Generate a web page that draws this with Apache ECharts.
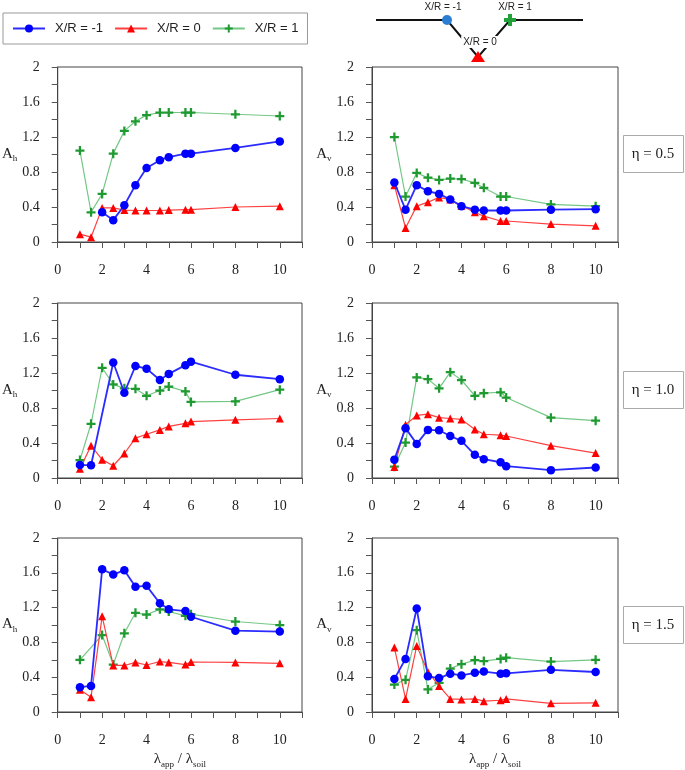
<!DOCTYPE html>
<html>
<head>
<meta charset="utf-8">
<script src="https://cdn.jsdelivr.net/npm/echarts@6/dist/echarts.min.js"></script>
<style>
  html, body { margin: 0; padding: 0; background: #fff; }
  #main { width: 685px; height: 770px; }
</style>
</head>
<body>
<div id="main"></div>
<script>
// lambda_app / lambda_soil
var lambdaRatio = [1, 1.5, 2, 2.5, 3, 3.5, 4, 4.6, 5, 5.75, 6, 8, 10];

var seriesNames = ['X/R = -1', 'X/R = 0', 'X/R = 1'];
var etaLabels = ['η = 0.5', 'η = 1.0', 'η = 1.5'];
var xTickLabels = ['0', '2', '4', '6', '8', '10'];
var yTickLabels = ['0', '0.4', '0.8', '1.2', '1.6', '2'];

// eta = 0.5
var ah05m1 = [null, null, 0.34, 0.25, 0.42, 0.65, 0.845, 0.935, 0.97, 1.01, 1.01, 1.075, 1.15];
var ah05z = [0.09, 0.055, 0.39, 0.39, 0.365, 0.36, 0.36, 0.36, 0.365, 0.37, 0.37, 0.40, 0.41];
var ah05p1 = [1.045, 0.34, 0.55, 1.01, 1.27, 1.38, 1.45, 1.48, 1.48, 1.48, 1.48, 1.46, 1.44];
var av05m1 = [0.68, 0.37, 0.65, 0.58, 0.55, 0.485, 0.41, 0.37, 0.36, 0.36, 0.36, 0.37, 0.375];
var av05z = [0.65, 0.16, 0.41, 0.455, 0.51, 0.485, 0.415, 0.34, 0.295, 0.24, 0.24, 0.205, 0.185];
var av05p1 = [1.20, 0.52, 0.79, 0.735, 0.71, 0.725, 0.72, 0.675, 0.62, 0.52, 0.52, 0.43, 0.41];

// eta = 1.0
var ah10m1 = [0.15, 0.145, null, 1.32, 0.975, 1.28, 1.25, 1.12, 1.19, 1.29, 1.33, 1.18, 1.13];
var ah10z = [0.106, 0.37, 0.21, 0.14, 0.28, 0.455, 0.50, 0.55, 0.59, 0.625, 0.645, 0.665, 0.68];
var ah10p1 = [0.205, 0.62, 1.26, 1.07, 1.025, 1.02, 0.94, 1.00, 1.045, 0.99, 0.87, 0.875, 1.01];
var av10m1 = [0.21, 0.57, 0.39, 0.55, 0.545, 0.48, 0.425, 0.265, 0.215, 0.18, 0.135, 0.09, 0.12];
var av10z = [0.125, 0.61, 0.715, 0.73, 0.69, 0.68, 0.67, 0.555, 0.50, 0.49, 0.48, 0.37, 0.285];
var av10p1 = [0.13, 0.405, 1.15, 1.13, 1.025, 1.21, 1.12, 0.94, 0.97, 0.98, 0.92, 0.69, 0.655];

// eta = 1.5
var ah15m1 = [0.285, 0.30, 1.64, 1.58, 1.63, 1.44, 1.45, 1.25, 1.18, 1.16, 1.095, 0.935, 0.925];
var ah15z = [0.255, 0.17, 1.10, 0.535, 0.535, 0.57, 0.54, 0.58, 0.57, 0.545, 0.575, 0.57, 0.56];
var ah15p1 = [0.60, null, 0.885, 0.545, 0.905, 1.14, 1.12, 1.18, 1.155, 1.105, 1.125, 1.04, 1.00];
var av15m1 = [0.38, 0.61, 1.19, 0.41, 0.39, 0.44, 0.42, 0.45, 0.465, 0.44, 0.445, 0.485, 0.46];
var av15z = [0.74, 0.15, 0.76, 0.46, 0.30, 0.15, 0.145, 0.15, 0.125, 0.135, 0.15, 0.10, 0.105];
var av15p1 = [0.315, 0.37, 0.94, 0.26, 0.335, 0.50, 0.55, 0.595, 0.585, 0.61, 0.625, 0.58, 0.60];

// panel order: row by row, left = A_h, right = A_v
var panels = [
  [ah05m1, ah05z, ah05p1], [av05m1, av05z, av05p1],
  [ah10m1, ah10z, ah10p1], [av10m1, av10z, av10p1],
  [ah15m1, ah15z, ah15p1], [av15m1, av15z, av15p1]
];

var plusPath = 'path://M3,0H5V3H8V5H5V8H3V5H0V3H3Z';
var styles = [
  { line: '#2b2bff', mark: '#0000ff', symbol: 'circle', size: 8.5, width: 1.8 },
  { line: '#ff4040', mark: '#ff0000', symbol: 'triangle', size: 8, width: 1.2 },
  { line: '#74c785', mark: '#1e9a30', symbol: plusPath, size: 9, width: 1.2 }
];

var gridLeft = [56, 372];
var gridTop = [67, 303, 538];
var serif = 'Liberation Serif';

var rich = {
  a: { fontFamily: serif, fontSize: 15, color: '#222', lineHeight: 16, verticalAlign: 'top' },
  s: { fontFamily: serif, fontSize: 9, color: '#222', lineHeight: 10, padding: [8, 0, 0, 0], verticalAlign: 'top' }
};

function pairs(arr) {
  var out = [];
  for (var i = 0; i < lambdaRatio.length; i++) {
    if (arr[i] !== null) out.push([lambdaRatio[i], arr[i]]);
  }
  return out;
}

var grids = [], xAxes = [], yAxes = [], series = [];
for (var p = 0; p < 6; p++) {
  var row = Math.floor(p / 2), col = p % 2;
  grids.push({
    left: gridLeft[col], top: gridTop[row], width: 246, height: 175,
    show: true, borderColor: '#444', borderWidth: 1, backgroundColor: 'transparent'
  });
  xAxes.push({
    type: 'value', gridIndex: p, min: 0, max: 11, interval: 1,
    name: row === 2 ? '{a|λ}{s|app}{a| / λ}{s|soil}' : '',
    nameLocation: 'middle', nameGap: 40,
    nameTextStyle: { rich: rich },
    splitLine: { show: false },
    axisLine: { lineStyle: { color: '#444' } },
    axisTick: { inside: false, length: 6, lineStyle: { color: '#555' } },
    axisLabel: {
      margin: 21, fontFamily: serif, fontSize: 14, color: '#222',
      formatter: function (v) {
        var s = String(Math.round(v * 10) / 10);
        return xTickLabels.indexOf(s) >= 0 ? s : '';
      }
    }
  });
  yAxes.push({
    type: 'value', gridIndex: p, min: 0, max: 2, interval: 0.2,
    name: col === 0 ? '{a|A}{s|h}' : '{a|A}{s|v}',
    nameLocation: 'middle', nameRotate: 0, nameGap: 40,
    nameTextStyle: { rich: rich },
    splitLine: { show: false },
    axisLine: { lineStyle: { color: '#444' } },
    axisTick: { inside: false, length: 6, lineStyle: { color: '#555' } },
    axisLabel: {
      margin: 18, fontFamily: serif, fontSize: 14, color: '#222',
      formatter: function (v) {
        var s = String(Math.round(v * 10) / 10);
        return yTickLabels.indexOf(s) >= 0 ? s : '';
      }
    }
  });
  for (var k = 0; k < 3; k++) {
    var st = styles[k];
    series.push({
      name: seriesNames[k], type: 'line', xAxisIndex: p, yAxisIndex: p,
      data: pairs(panels[p][k]),
      symbol: st.symbol, symbolSize: st.size, showSymbol: true,
      lineStyle: { color: st.line, width: st.width },
      itemStyle: { color: st.mark },
      animation: false, z: 3 - k
    });
  }
}

var graphics = [];
// eta boxes
for (var r = 0; r < 3; r++) {
  var cy = gridTop[r] + 87;
  graphics.push({
    type: 'rect', shape: { x: 623.5, y: cy - 18.5, width: 60, height: 37 },
    style: { fill: '#fff', stroke: '#aaa', lineWidth: 1 }
  });
  graphics.push({
    type: 'text', x: 653, y: cy,
    style: { text: etaLabels[r], font: '15px "Liberation Serif"', fill: '#222', textAlign: 'center', textVerticalAlign: 'middle' }
  });
}
// X/R sketch at the top
graphics.push(
  { type: 'polyline', shape: { points: [[376, 20], [447, 20], [478, 57], [510, 20], [583, 20]] }, style: { stroke: '#111', lineWidth: 2, fill: null } },
  { type: 'text', x: 480, y: 42, style: { text: 'X/R = 0', font: '10px "Liberation Sans"', fill: '#222', textAlign: 'center', textVerticalAlign: 'middle', backgroundColor: '#fff', padding: [1, 2] } },
  { type: 'circle', shape: { cx: 447, cy: 20, r: 5 }, style: { fill: '#2a7fd4' } },
  { type: 'polygon', shape: { points: [[478, 51], [485, 62], [471, 62]] }, style: { fill: '#ff0000' } },
  { type: 'polygon', shape: { points: [[508, 14], [512, 14], [512, 18], [516, 18], [516, 22], [512, 22], [512, 26], [508, 26], [508, 22], [504, 22], [504, 18], [508, 18]] }, style: { fill: '#22a13a' } },
  { type: 'text', x: 443, y: 7, style: { text: 'X/R = -1', font: '10px "Liberation Sans"', fill: '#222', textAlign: 'center', textVerticalAlign: 'middle' } },
  { type: 'text', x: 515, y: 7, style: { text: 'X/R = 1', font: '10px "Liberation Sans"', fill: '#222', textAlign: 'center', textVerticalAlign: 'middle' } }
);

var option = {
  backgroundColor: '#fff',
  animation: false,
  legend: {
    data: seriesNames,
    left: 3, top: 13,
    itemWidth: 32, itemHeight: 10, itemGap: 11,
    padding: [9, 9],
    borderColor: '#999', borderWidth: 1,
    textStyle: { fontFamily: 'Liberation Sans', fontSize: 13, color: '#222', padding: [0, 0, 0, 5] }
  },
  grid: grids,
  xAxis: xAxes,
  yAxis: yAxes,
  series: series,
  graphic: graphics
};

var chart = echarts.init(document.getElementById('main'));
chart.setOption(option);
</script>
</body>
</html>
